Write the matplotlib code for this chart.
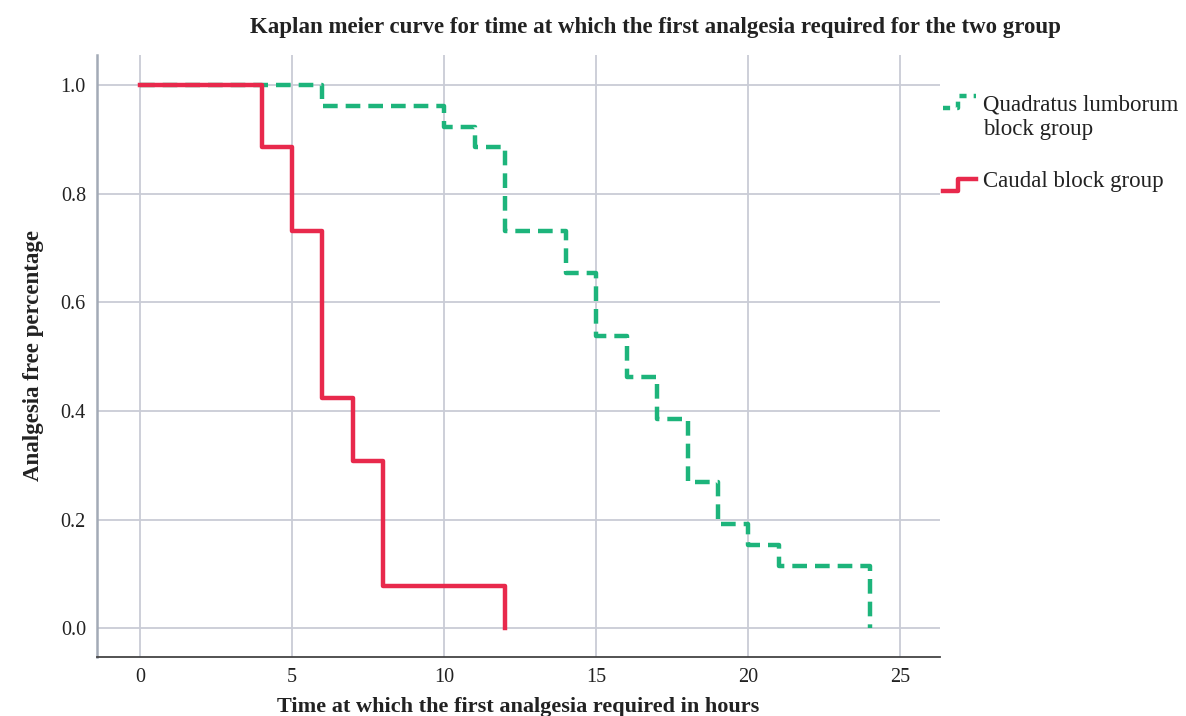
import matplotlib
matplotlib.use("Agg")
import matplotlib.pyplot as plt
from matplotlib.lines import Line2D
from matplotlib.legend_handler import HandlerBase

# Kaplan-Meier step data (hours, survival fraction), n = 26 per group
tiempo_ql = [0, 6, 10, 11, 12, 14, 15, 16, 17, 18, 19, 20, 21, 24]
surv_ql = [1.0, 0.962, 0.923, 0.885, 0.731, 0.654, 0.538, 0.462, 0.385, 0.269, 0.192, 0.154, 0.115, 0.0]

tiempo_caudal = [0, 4, 5, 6, 7, 8, 12]
surv_caudal = [1.0, 0.885, 0.731, 0.423, 0.308, 0.077, 0.0]

etiquetas = ["Quadratus lumborum\nblock group", "Caudal block group"]
xticks = [0, 5, 10, 15, 20, 25]
yticks = [0.0, 0.2, 0.4, 0.6, 0.8, 1.0]

verde = "#1db47b"
rojo = "#e8294c"

plt.rcParams["font.family"] = ["Liberation Serif", "DejaVu Serif"]


class HandlerStep(HandlerBase):
    # icono de leyenda en forma de escalón
    def __init__(self, dy=0.0, **kw):
        super().__init__(**kw)
        self.dy = dy

    def create_artists(self, legend, orig, xdescent, ydescent, width, height, fontsize, trans):
        xs = [0, width * 0.45, width * 0.45, width]
        ys = [0, 0, height * 0.75, height * 0.75]
        l = Line2D([x - xdescent for x in xs], [y - ydescent - 0.25 * height + self.dy for y in ys],
                   color=orig.get_color(), lw=orig.get_linewidth(),
                   linestyle=orig.get_linestyle(), transform=trans)
        if orig.get_linestyle() == "--":
            l.set_dashes((1.6, 1.6))
        return [l]


fig = plt.figure(figsize=(11.86, 7.16), dpi=100)
ax = fig.add_axes([0.0818, 0.0824, 0.7108, 0.8408])

ax.step(tiempo_ql, surv_ql, where="post", color=verde, lw=3.2,
        linestyle="--", dashes=(3.3, 1.8), zorder=3)
ax.step(tiempo_caudal, surv_caudal, where="post", color=rojo, lw=3.2, zorder=4)

ax.set_xlim(-1.41, 26.3)
ax.set_ylim(-0.053, 1.055)
ax.set_xticks(xticks)
ax.set_yticks(yticks)
ax.set_yticklabels([f"{v:.1f}" for v in yticks])
ax.tick_params(length=0, labelsize=14.5, colors="#222222", pad=8)
ax.grid(True, color="#c9ccd6", lw=1.3)
ax.set_axisbelow(True)

for s in ["top", "right"]:
    ax.spines[s].set_visible(False)
ax.spines["left"].set_color("#a3aab6")
ax.spines["left"].set_linewidth(1.8)
ax.spines["bottom"].set_color("#444444")
ax.spines["bottom"].set_linewidth(1.3)

ax.set_xlabel("Time at which the first analgesia required in hours", fontsize=16,
              fontweight="bold", color="#222222", labelpad=7)
ax.set_ylabel("Analgesia free percentage", fontsize=16.5, fontweight="bold",
              color="#222222", labelpad=12)
fig.text(0.5527, 0.961, "Kaplan meier curve for time at which the first analgesia required for the two group",
         ha="center", va="center", fontsize=16.5, fontweight="bold", color="#222222")

h1 = Line2D([], [], color=verde, lw=3.2, linestyle="--")
h2 = Line2D([], [], color=rojo, lw=3.2)
leg = ax.legend([h1, h2], etiquetas, handler_map={h1: HandlerStep(dy=15), h2: HandlerStep()},
                loc="upper left", bbox_to_anchor=(1.003, 0.935), frameon=False,
                fontsize=16.5, handlelength=1.45, handletextpad=0.3, labelspacing=1.35,
                borderaxespad=0.0, borderpad=0.0)
for t in leg.get_texts():
    t.set_color("#222222")
    t.set_linespacing(1.25)

plt.savefig("out.png", dpi=100)
